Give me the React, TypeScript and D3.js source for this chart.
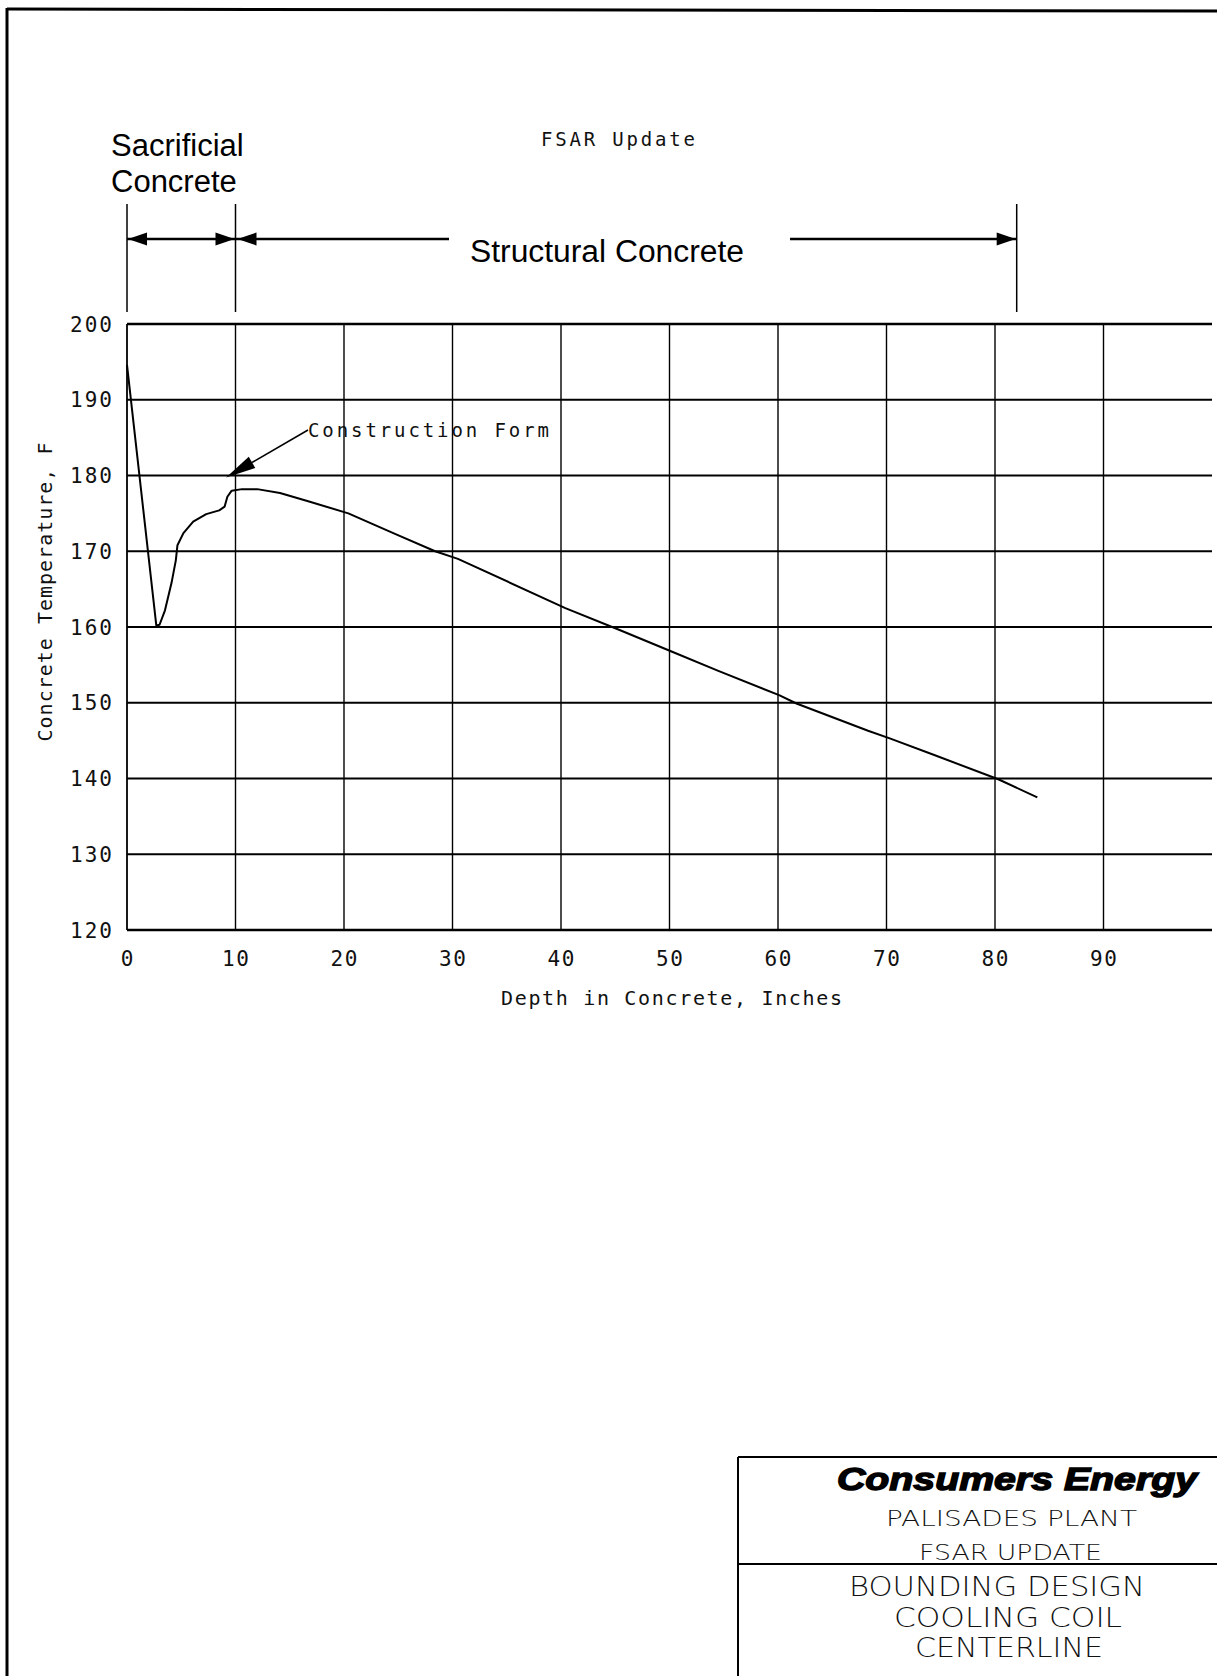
import React from 'react';
import * as d3 from 'd3';

// depth into the wall (inches) and concrete temperature (F)
const depthIn = [0, 2.7, 3.0, 3.5, 4.1, 4.5, 4.65, 5.2, 6.1, 7.3, 8.5, 9.0, 9.25, 9.65, 10.6, 12.0, 14.1, 16.7, 20.4, 24.7, 28.4, 30.5, 40.4, 45.4, 50.3, 54.5, 60.1, 61.7, 68.3, 70.3, 74.4, 80.3, 83.9];
const tempF = [194.6, 160.2, 160.3, 162.2, 165.8, 168.8, 170.8, 172.4, 173.9, 174.9, 175.4, 175.9, 177.2, 178.0, 178.2, 178.2, 177.7, 176.6, 175.0, 172.3, 170.0, 169.0, 162.5, 159.6, 156.7, 154.2, 151.0, 149.9, 146.3, 145.3, 143.1, 139.9, 137.5];

const xTicks = [0, 10, 20, 30, 40, 50, 60, 70, 80, 90];
const yTicks = [120, 130, 140, 150, 160, 170, 180, 190, 200];

// zone boundaries (inches) for the dimension arrows
const zoneEdges = [0, 10, 82];
const sacrificialLabel = ['Sacrificial', 'Concrete'];
const structuralLabel = 'Structural Concrete';
const formNote = 'Construction Form';
const formDepth = 9.5;
const formTemp = 180;

const titleLines = ['PALISADES PLANT', 'FSAR UPDATE'];
const subjectLines = ['BOUNDING DESIGN', 'COOLING COIL', 'CENTERLINE'];

const W = 1217;
const H = 1676;

const plotter = { fontFamily: '"DejaVu Sans Mono", monospace', fill: '#111' };
const label = { fontFamily: '"Liberation Sans", Arial, sans-serif', fill: '#000' };
const thin = { fontFamily: '"DejaVu Sans", sans-serif', fontWeight: 200, fill: '#111' };

function arrowHead(tipX: number, tipY: number, dir: number, len = 19, half = 6.5) {
  // dir = -1 points left, +1 points right
  const bx = tipX - dir * len;
  return `M${tipX},${tipY}L${bx},${tipY - half}L${bx},${tipY + half}Z`;
}

export default function App() {
  const x = d3.scaleLinear().domain([0, 100]).range([127, 1212]);
  const y = d3.scaleLinear().domain([120, 200]).range([930, 324]);

  const pts = depthIn.map((d, i) => [d, tempF[i]] as [number, number]);
  const line = d3.line<[number, number]>()
    .x(d => x(d[0]))
    .y(d => y(d[1]))
    .curve(d3.curveLinear);

  const dimTop = 204;
  const dimBot = 312;
  const dimY = 239;
  const [z0, z1, z2] = zoneEdges.map(e => x(e));

  // construction form leader
  const tipX = x(formDepth) - 4;
  const tipY = y(formTemp) + 2;
  const fromX = 308;
  const fromY = 430;
  const ang = Math.atan2(fromY - tipY, fromX - tipX);
  const hl = 30, hw = 6.5;
  const bx = tipX + Math.cos(ang) * hl;
  const by = tipY + Math.sin(ang) * hl;
  const px = -Math.sin(ang) * hw;
  const py = Math.cos(ang) * hw;

  return (
    <svg width={W} height={H} viewBox={`0 0 ${W} ${H}`}
      style={{ position: 'absolute', left: 0, top: 0, background: '#fff' }}>
      <rect x={0} y={0} width={W} height={H} fill="#fff" />

      {/* page frame */}
      <line x1={7} y1={9} x2={W} y2={11} stroke="#000" strokeWidth={3} />
      <line x1={7} y1={8} x2={7} y2={H} stroke="#000" strokeWidth={3} />

      <text x={541} y={146} {...plotter} fontSize={19} textLength={154} lengthAdjust="spacing">FSAR Update</text>

      {/* zone dimensions */}
      {sacrificialLabel.map((t, i) => (
        <text key={t} x={111} y={156 + i * 36} {...label} fontSize={31}>{t}</text>
      ))}
      {[z0, z1, z2].map((zx, i) => (
        <line key={i} x1={zx} y1={dimTop} x2={zx} y2={dimBot} stroke="#000" strokeWidth={1.5} />
      ))}
      <line x1={z0} y1={dimY} x2={z1} y2={dimY} stroke="#000" strokeWidth={2.6} />
      <path d={arrowHead(z0 + 1, dimY, -1)} fill="#000" />
      <path d={arrowHead(z1 - 1, dimY, 1)} fill="#000" />
      <line x1={z1} y1={dimY} x2={449} y2={dimY} stroke="#000" strokeWidth={2.6} />
      <path d={arrowHead(z1 + 2, dimY, -1)} fill="#000" />
      <line x1={790} y1={dimY} x2={z2} y2={dimY} stroke="#000" strokeWidth={2.6} />
      <path d={arrowHead(z2 - 1, dimY, 1)} fill="#000" />
      <text x={470} y={262} {...label} fontSize={31} textLength={274} lengthAdjust="spacingAndGlyphs">{structuralLabel}</text>

      {/* grid */}
      {yTicks.map(v => (
        <line key={'h' + v} x1={x(0)} y1={y(v)} x2={x(100)} y2={y(v)} stroke="#000"
          strokeWidth={v === 120 || v === 200 ? 2.6 : 1.8} />
      ))}
      {xTicks.map(v => (
        <line key={'v' + v} x1={x(v)} y1={y(200)} x2={x(v)} y2={y(120)} stroke="#000"
          strokeWidth={v === 0 ? 1.8 : 1.4} />
      ))}

      {/* tick labels */}
      {yTicks.map(v => (
        <text key={'yl' + v} x={112} y={y(v)} dy="0.36em" textAnchor="end" {...plotter}
          fontSize={21} textLength={42} lengthAdjust="spacing">{v}</text>
      ))}
      {xTicks.map(v => (
        <text key={'xl' + v} x={x(v)} y={966} textAnchor="middle" {...plotter}
          fontSize={21} textLength={v === 0 ? 12 : 27} lengthAdjust="spacing">{v}</text>
      ))}

      <text x={501} y={1005} {...plotter} fontSize={20} textLength={341} lengthAdjust="spacing">Depth in Concrete, Inches</text>
      <text transform="translate(52,592) rotate(-90)" textAnchor="middle" {...plotter} fontSize={20}
        textLength={299} lengthAdjust="spacing">Concrete Temperature, F</text>

      {/* temperature profile */}
      <path d={line(pts) || ''} fill="none" stroke="#000" strokeWidth={2} strokeLinejoin="round" />

      {/* construction form note */}
      <line x1={fromX} y1={fromY} x2={bx} y2={by} stroke="#000" strokeWidth={1.6} />
      <path d={`M${tipX},${tipY}L${bx + px},${by + py}L${bx - px},${by - py}Z`} fill="#000" />
      <text x={308} y={437} {...plotter} fontSize={19} textLength={241} lengthAdjust="spacing">{formNote}</text>

      {/* title block */}
      <line x1={738} y1={1457} x2={W} y2={1457} stroke="#000" strokeWidth={2} />
      <line x1={738} y1={1564} x2={W} y2={1564} stroke="#000" strokeWidth={2} />
      <line x1={738} y1={1457} x2={738} y2={H} stroke="#000" strokeWidth={2} />
      <text x={837} y={1490} fontFamily='"Liberation Sans", Arial, sans-serif' fontWeight={700} fontStyle="italic"
        fontSize={31} fill="#000" stroke="#000" strokeWidth={1.4} textLength={360} lengthAdjust="spacingAndGlyphs">Consumers Energy</text>
      <text x={886} y={1526} {...thin} fontSize={22} textLength={251} lengthAdjust="spacingAndGlyphs">{titleLines[0]}</text>
      <text x={919} y={1560} {...thin} fontSize={22} textLength={183} lengthAdjust="spacingAndGlyphs">{titleLines[1]}</text>
      {subjectLines.map((t, i) => {
        const xs = [849, 894, 915];
        const ws = [296, 228, 188];
        return (
          <text key={t} x={xs[i]} y={1596 + i * 30.5} {...thin} fontSize={26}
            textLength={ws[i]} lengthAdjust="spacingAndGlyphs">{t}</text>
        );
      })}
    </svg>
  );
}
